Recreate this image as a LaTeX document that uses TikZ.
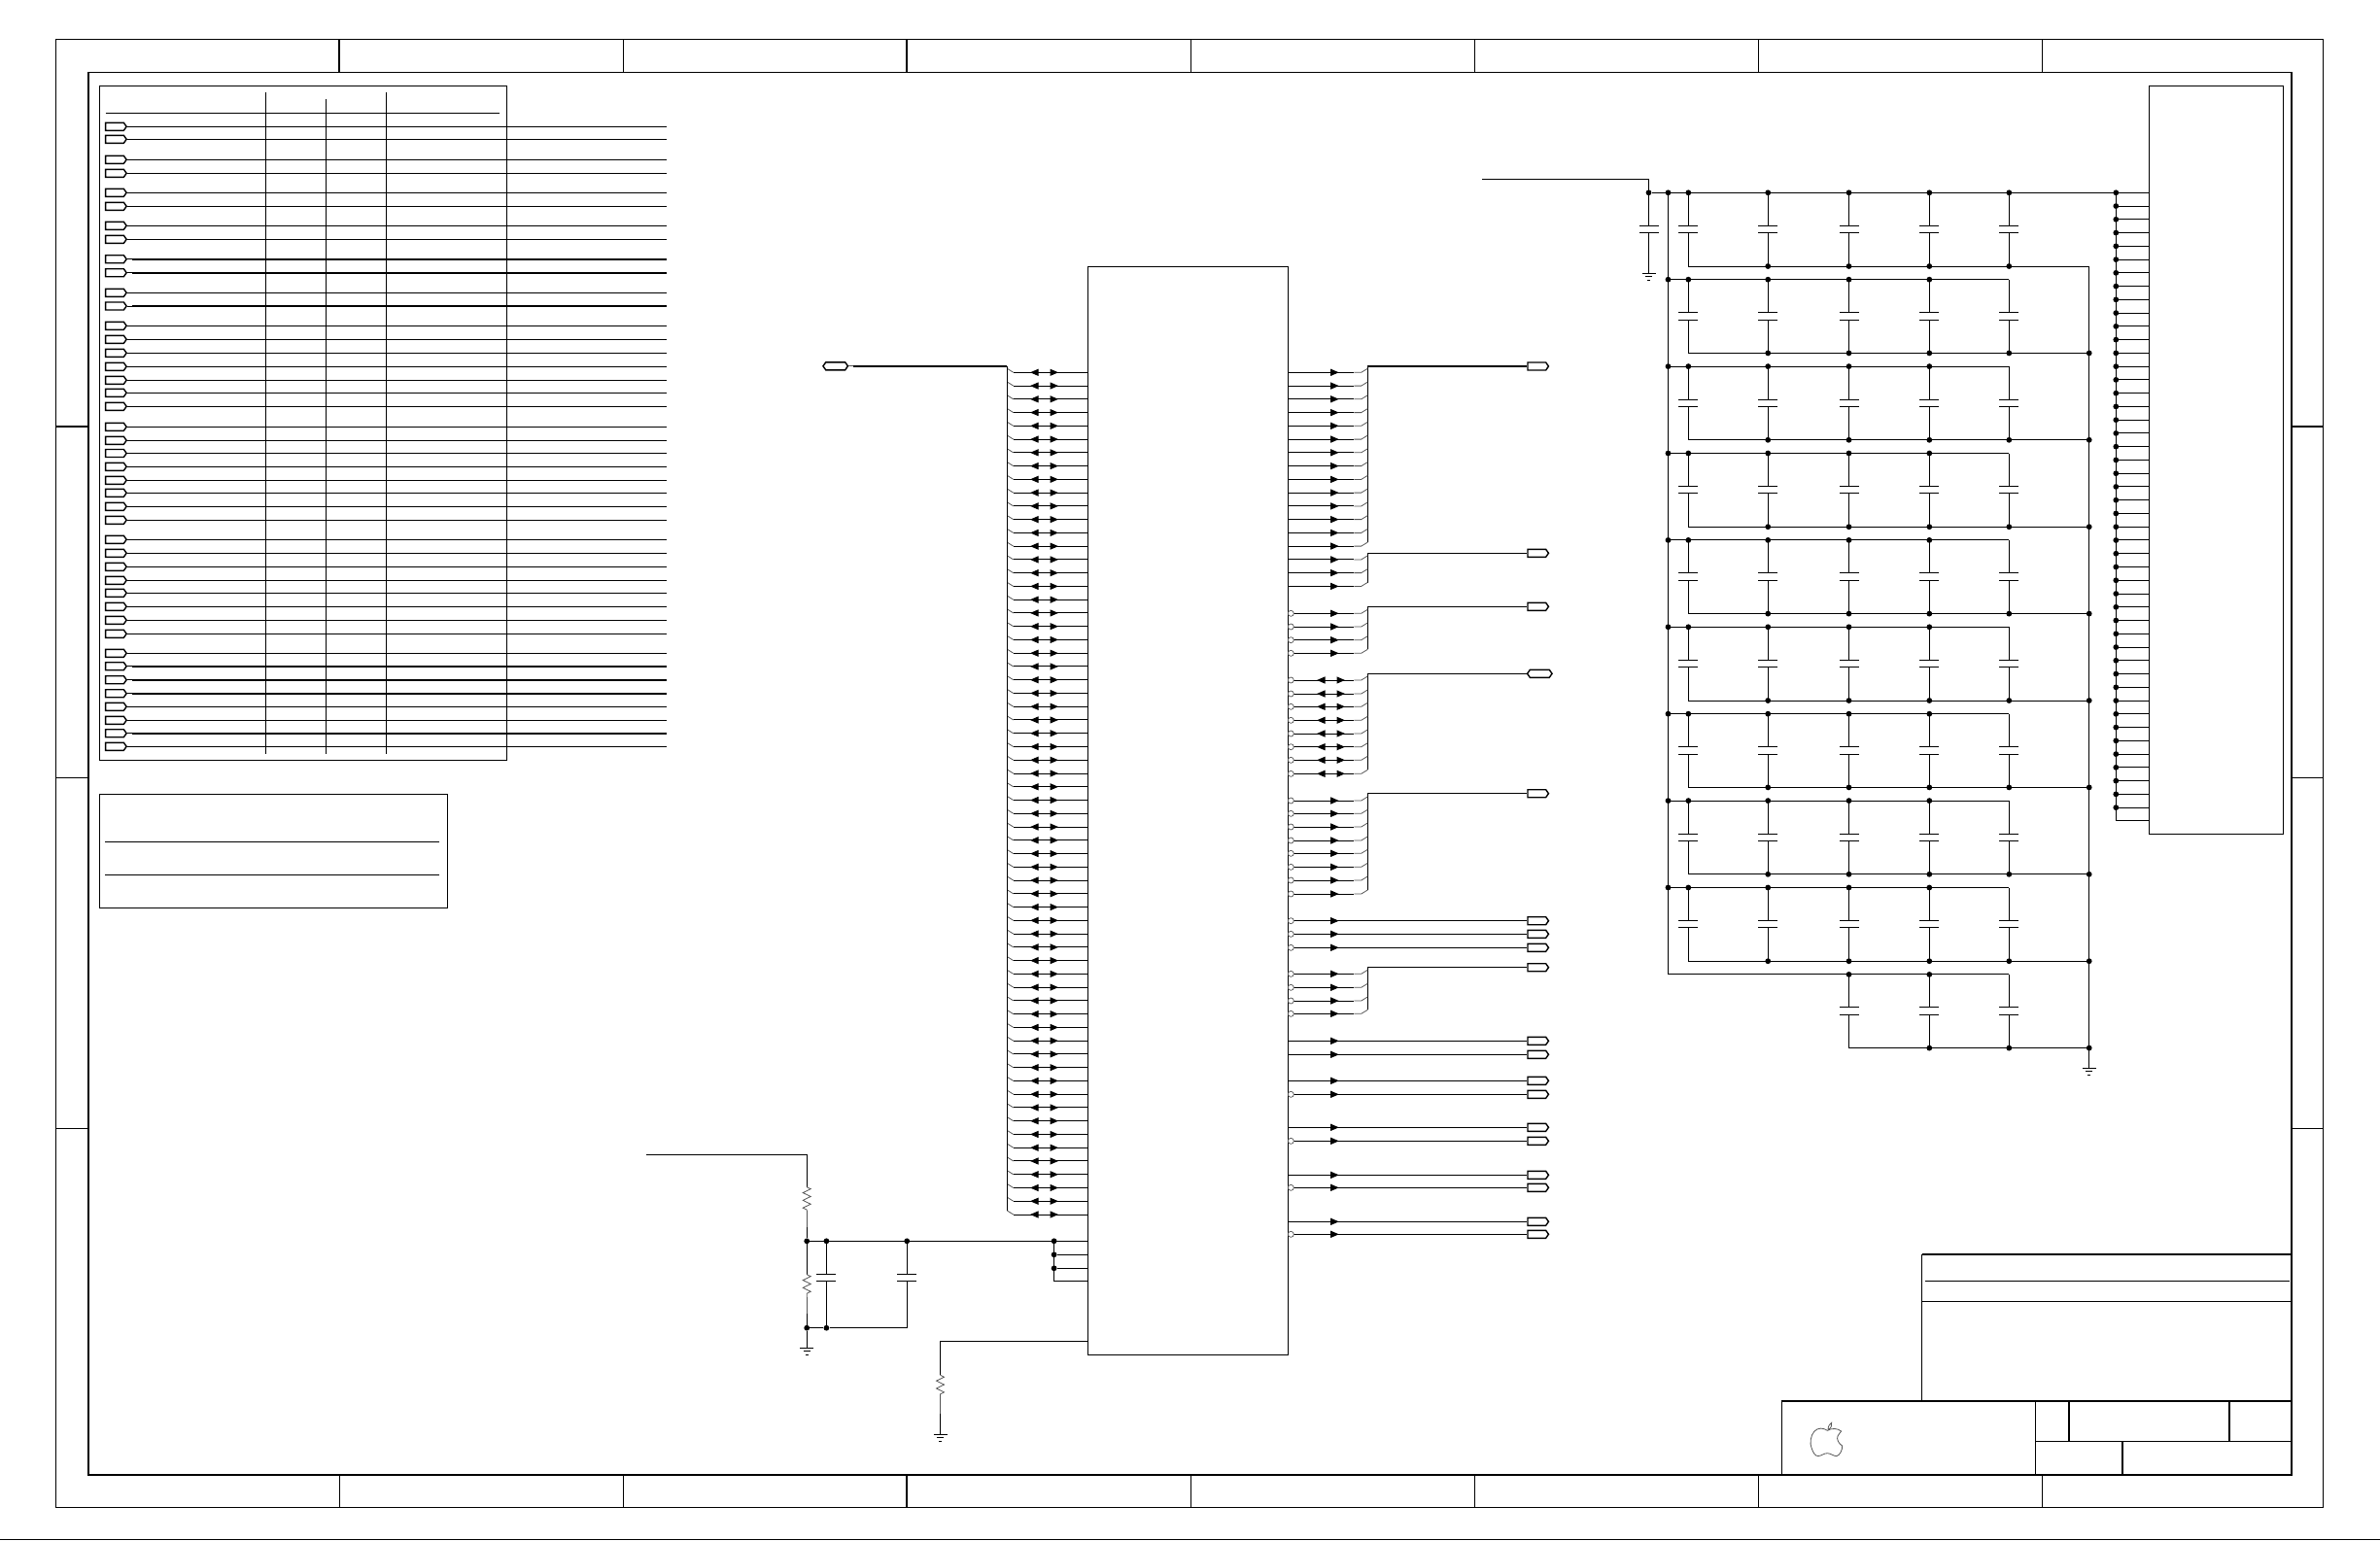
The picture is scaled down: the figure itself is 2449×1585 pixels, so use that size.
\documentclass[tikz,border=0pt]{standalone}
\usetikzlibrary{arrows.meta}
\usetikzlibrary{calc}
\usetikzlibrary{decorations.pathmorphing}
\usetikzlibrary{shapes.symbols}
\definecolor{tapgray}{HTML}{555555}
\tikzset{>={Triangle[length=8.5pt,width=7pt]}}
\tikzset{
	wire/.style = {line width = 1pt},
	heavy/.style = {line width = 2.2pt},
	tap/.style = {line width = 0.8pt, tapgray},
	outpin/.style = {->},
	bipin/.style = {<->},
	port/.style = {shape = signal, signal to = east, signal pointer angle = 110, draw, line width = 1.4pt,
		inner sep = 0pt, minimum width = 21.5pt, minimum height = 8pt},
	hexport/.style = {port, signal to = east and west, minimum width = 25.5pt},
	dot/.style = {circle, fill = black, inner sep = 0pt, minimum size = 5.8pt},
	bubble/.style = {circle, draw = tapgray, fill = white, line width = 0.7pt, inner sep = 0pt, minimum size = 6pt},
	res/.style = {tap, decorate, decoration = {zigzag, segment length = 7.8pt, amplitude = 4pt}},
	cap/.pic = {
		\draw[wire] (-10,0) -- (10,0) (-10,7.4) -- (10,7.4);
		\coordinate (-a) at (0,0);
		\coordinate (-b) at (0,7.4);
	},
	gnd/.pic = {
		\draw[wire] (-7,0) -- (7,0) (-3.6,3.6) -- (3.6,3.6) (-1.5,7) -- (1.5,7);
		\coordinate (-a) at (0,0);
	}
}

\begin{document}
\begin{tikzpicture}[x = 1pt, y = -1pt]
\useasboundingbox (0,0) rectangle (2449,1585);

% sheet frame
\draw[wire] (57.5,40.5) rectangle (2390,1551.3);
\draw[wire] (91,74.3) -- (2358.2,74.3);
\draw[heavy] (91,74.3) -- (91,1517.8) -- (2358.2,1517.8) -- (2358.2,74.3);
\foreach \x/\st in {349/heavy, 641/wire, 933/heavy, 1225/wire, 1517/wire, 1809/wire, 2101/wire}
	\draw[\st] (\x,40.5) -- (\x,74.3);
\foreach \x/\st in {349/wire, 641/wire, 933/heavy, 1225/wire, 1517/wire, 1809/wire, 2101/wire}
	\draw[\st] (\x,1517.8) -- (\x,1551.3);
\foreach \y/\st in {439/heavy, 800/wire, 1161/wire} {
	\draw[\st] (57.5,\y) -- (91,\y);
	\draw[\st] (2358.2,\y) -- (2390,\y);
}
\draw[wire] (0,1584.3) -- (2449,1584.3);

% title block
\draw[heavy] (1977.5,1290.7) -- (2358.2,1290.7);
\draw[wire] (1977.5,1290.7) -- (1977.5,1442);
\draw[wire] (1981,1318.3) -- (2356,1318.3);
\draw[wire] (1977.5,1339.3) -- (2358.2,1339.3);
\draw[heavy] (1833,1442) -- (2358.2,1442);
\draw[wire] (1833,1442) -- (1833,1517.8);
\draw[wire] (2094.6,1442) -- (2094.6,1517.8);
\draw[wire] (2094.6,1483.3) -- (2358.2,1483.3);
\draw[heavy] (2128.6,1442) -- (2128.6,1483.3);
\draw[heavy] (2294,1442) -- (2294,1483.3);
\draw[heavy] (2184,1483.3) -- (2184,1517.8);
\draw[tap] (1880.4,1472.3) .. controls (1876,1469.5) and (1871,1469) .. (1867,1473)
	.. controls (1863,1477) and (1862,1486) .. (1864,1490)
	.. controls (1865.5,1495) and (1868,1499) .. (1871,1498.5)
	.. controls (1874,1498.5) and (1877,1495.5) .. (1880.4,1495.7)
	.. controls (1884,1495.7) and (1887,1499) .. (1890,1498.5)
	.. controls (1893,1498) and (1896,1492) .. (1895.7,1488)
	.. controls (1892,1486) and (1889.5,1481) .. (1891,1478)
	.. controls (1892,1476) and (1893.5,1474.5) .. (1894.6,1473)
	.. controls (1891,1470) and (1885,1469.5) .. (1880.4,1472.3) -- cycle;
\draw[tap] (1881,1471.5) .. controls (1881,1468) and (1882.5,1465.5) .. (1884.6,1464.3)
	.. controls (1885.5,1467) and (1884,1470) .. (1881,1471.5);

% signal table
\draw[wire] (102.3,88.3) rectangle (521.4,782.3);
\draw[wire] (108.6,116.3) -- (513.5,116.3);
\draw[wire] (273.5,95) -- (273.5,775.7);
\draw[wire] (335,101.7) -- (335,775.7);
\draw[wire] (397,95) -- (397,775.7);
\foreach[count = \i] \y/\st in {130.3/wire, 143.3/wire, 164.3/wire, 178.3/wire, 198.3/wire, 212.3/wire,
	232.3/wire, 246.3/wire, 266.7/heavy, 280.7/heavy, 301.3/wire, 315/heavy, 335.3/wire, 349.3/wire,
	363.3/wire, 377.3/wire, 391.3/wire, 404.3/wire, 418.3/wire, 439.3/wire, 453.3/wire, 466.5/wire,
	480.3/wire, 494.3/wire, 507.3/wire, 521.3/wire, 535.3/wire, 555.3/wire, 569.3/wire, 583.3/wire,
	597.3/wire, 610.3/wire, 624.3/wire, 638.3/wire, 652.3/wire, 672.3/wire, 685.7/heavy, 699.7/heavy,
	713.7/heavy, 727.3/wire, 741.3/wire, 754.7/heavy, 768.3/wire} {
	\node[port] (tp\i) at (118,\y) {};
	\coordinate (ts\i) at (136,\y);
	\coordinate (te\i) at (686,\y);
	\draw[wire] (tp\i.east) -- (ts\i);
	\draw[\st] (ts\i) -- (te\i);
}

% note box
\draw[wire] (102.3,817) rectangle (460,934.5);
\draw[wire] (108,866) -- (452,866);
\draw[wire] (108,900) -- (452,900);

% memory device
\node[draw, wire, inner sep = 0pt, minimum width = 205.9pt, minimum height = 1120pt] (ic) at (1222.35,834.3) {};

\foreach \k in {0,...,63} {
	\pgfmathsetmacro\y{383.3 + 13.757 * \k}
	\coordinate (lp\k) at (ic.west |- 0,\y);
	\coordinate (lt\k) at (1042.7,\y);
	\coordinate (lb\k) at (1036.4,\y - 4);
	\draw[wire] (lp\k) -- (lt\k);
	\draw[tap] (lt\k) -- (lb\k);
	\draw[wire, bipin] (1060,\y) -- (1089,\y);
}
\node[hexport] (dq) at (859.7,376.8) {};
\coordinate (dqs) at (878.3,376.8);
\coordinate (dqb) at (1036.4,376.8);
\draw[tap] (dq.east) -- (dqs);
\draw[heavy] (dqs) -- (dqb);
\draw[wire] (dqb) -- (lb63);

% outputs that share a bus
\foreach \g/\top/\st/\pt/\cx in {1/377/heavy/port/1581.3, 2/569.3/wire/port/1581.3, 3/624.3/wire/port/1581.3,
	4/693.3/wire/hexport/1584.3, 5/816.7/wire/port/1581.3, 6/995.7/wire/port/1581.3} {
	\node[\pt] (rport\g) at (\cx,\top) {};
	\coordinate (rb\g) at (1407.3,\top);
	\draw[\st] (rb\g) -- (rport\g.west);
}
\foreach \g/\bot/\b/\a/\s/\e/\ys in {
	1/558.3/0/outpin/1368/1377.7/{383.3, 397.1, 410.8, 424.6, 438.3, 452.1, 465.8, 479.6, 493.4, 507.1, 520.9, 534.6, 548.4, 562.1},
	2/600.3/0/outpin/1368/1377.7/{575.9, 589.6, 603.4},
	3/668.3/1/outpin/1368/1377.7/{631.3, 645, 658.7, 672.3},
	4/792.3/1/bipin/1355/1384/{700, 714, 727.3, 741.3, 755, 768.7, 782.3, 796.3},
	5/916/1/outpin/1368/1377.7/{824, 837.3, 851, 865, 878.3, 892.3, 906, 920},
	6/1039.3/1/outpin/1368/1377.7/{1002.3, 1016.3, 1030, 1043.3}} {
	\coordinate (rz\g) at (1407.3,\bot);
	\draw[wire] (rb\g) -- (rz\g);
	\foreach[count = \i] \y in \ys {
		\coordinate (rp\g-\i) at (ic.east |- 0,\y);
		\coordinate (rs\g-\i) at (1393.3,\y);
		\coordinate (rt\g-\i) at (1407.3,\y - 4);
		\draw[wire] (rp\g-\i) -- (rs\g-\i);
		\draw[tap] (rs\g-\i) -- ++(7.4,0) -- (rt\g-\i);
		\draw[wire, \a] (\s,\y) -- (\e,\y);
		\ifnum\b=1
			\node[bubble] (rn\g-\i) at (1328.3,\y) {};
		\fi
	}
}

% outputs with a port each
\foreach[count = \i] \y/\b in {947.7/1, 961.3/1, 975.3/1, 1071.3/0, 1085.3/0, 1112.3/0, 1126.3/1,
	1160.3/0, 1174.3/1, 1209.3/0, 1222.3/1, 1257.3/0, 1270.3/1} {
	\node[port] (sp\i) at (1581.3,\y) {};
	\coordinate (sq\i) at (ic.east |- 0,\y);
	\draw[wire] (sq\i) -- (sp\i.west);
	\draw[wire, outpin] (1368,\y) -- (1377.7,\y);
	\ifnum\b=1
		\node[bubble] (sn\i) at (1328.3,\y) {};
	\fi
}

% reference divider
\coordinate (vrin) at (665,1188.3);
\coordinate (ra1) at (830.2,1221.7);
\coordinate (ra2) at (830.2,1246);
\coordinate (rb1) at (830.2,1311.7);
\coordinate (rb2) at (830.2,1335);
\node[dot] (vr) at (830.2,1277.3) {};
\node[dot] (vrg) at (830.2,1366.7) {};
\node[dot] (vc1) at (850.4,1277.3) {};
\node[dot] (vc2) at (933.2,1277.3) {};
\node[dot] (vcg) at (850.4,1366.7) {};
\coordinate (vcz) at (933.2,1366.7);
\draw[wire] (vrin) -| (ra1);
\draw[res] (ra1) -- (ra2);
\draw[tap] (ra2) -- (830.2,1263.3);
\draw[wire] (830.2,1263.3) -- (vr) -- (rb1);
\draw[res] (rb1) -- (rb2);
\draw[tap] (rb2) -- (830.2,1352);
\draw[wire] (830.2,1352) -- (vrg) -- (vcg) -- (vcz);
\pic (cv1) at (850.4,1311.3) {cap};
\pic (cv2) at (933.2,1311.3) {cap};
\draw[wire] (vc1) -- (cv1-a);
\draw[wire] (cv1-b) -- (vcg);
\draw[wire] (vc2) -- (cv2-a);
\draw[wire] (cv2-b) -- (vcz);
\pic (gv) at (830.2,1387.3) {gnd};
\draw[wire] (vrg) -- (gv-a);
\node[dot] (vp1) at (1084.6,1277.3) {};
\node[dot] (vp2) at (1084.6,1291.3) {};
\node[dot] (vp3) at (1084.6,1305.3) {};
\coordinate (vp4) at (1084.6,1318.3);
\draw[wire] (vr) -- (ic.west |- vp1);
\draw[wire] (vp2) -- (ic.west |- vp2);
\draw[wire] (vp3) -- (ic.west |- vp3);
\draw[wire] (vp1) -- (vp4) -- (ic.west |- vp4);

% calibration resistor
\coordinate (zq) at (ic.west |- 0,1380.3);
\coordinate (rz1) at (967.5,1415.3);
\coordinate (rz2) at (967.5,1438.3);
\coordinate (rz3) at (967.5,1455);
\pic (gz) at (967.5,1476) {gnd};
\draw[wire] (zq) -| (rz1);
\draw[res] (rz1) -- (rz2);
\draw[tap] (rz2) -- (rz3);
\draw[wire] (rz3) -- (gz-a);

% right hand connector
\node[draw, wire, inner sep = 0pt, minimum width = 138.4pt, minimum height = 770.3pt] (conn) at (2280.4,473.15) {};
\foreach \k in {0,...,47} {
	\pgfmathsetmacro\y{198.3 + 13.757 * \k}
	\coordinate (pb\k) at (2177.3,\y);
	\draw[wire] (pb\k) -- (conn.west |- pb\k);
	\ifnum\k<47
		\node[dot] (pd\k) at (pb\k) {};
	\fi
}
\draw[wire] (pb0) -- (pb47);

% decoupling rows
\foreach \r in {0,...,9} {
	\pgfmathsetmacro\t{198.3 + 89.4 * \r}
	\pgfmathsetmacro\u{\t + 75.7}
	\pgfmathtruncatemacro\first{\r == 9 ? 2 : 0}
	\coordinate (tv\r) at (1716.5,\t);
	\coordinate (bv\r) at (2149.7,\u);
	\foreach \c/\x in {0/1737.3, 1/1819.2, 2/1902.5, 3/1985.3, 4/2067.3} {
		\ifnum\c<\first\else
			\coordinate (ct\r-\c) at (\x,\t);
			\coordinate (cb\r-\c) at (\x,\u);
			\pic (c\r-\c) at (\x,\t + 34) {cap};
			\draw[wire] (ct\r-\c) -- (c\r-\c-a);
			\draw[wire] (c\r-\c-b) -- (cb\r-\c);
			\ifnum\c<4
				\node[dot] (dt\r-\c) at (ct\r-\c) {};
			\else
				\ifnum\r=0
					\node[dot] (dt\r-\c) at (ct\r-\c) {};
				\fi
			\fi
			\ifnum\c>\first
				\node[dot] (db\r-\c) at (cb\r-\c) {};
			\fi
		\fi
	}
	\draw[wire] (tv\r) -- (ct\r-4);
	\draw[wire] (cb\r-\first) -- (bv\r);
	\ifnum\r<9
		\node[dot] (dv\r) at (tv\r) {};
	\fi
	\ifnum\r>0
		\node[dot] (dr\r) at (bv\r) {};
	\fi
}
\draw[wire] (tv0) -- (tv9);
\pic (gr) at (2149.7,1099.3) {gnd};
\draw[wire] (bv0) -- (gr-a);

% supply feed
\coordinate (vin) at (1525,184.3);
\node[dot] (vj) at (1696.5,198.3) {};
\pic (cf) at (1696.5,232) {cap};
\pic (gf) at (1696.5,281.3) {gnd};
\draw[wire] (vin) -| (cf-a);
\draw[wire] (cf-b) -- (gf-a);
\draw[wire] (vj) -- (tv0);
\draw[wire] (ct0-4) -- (pb0);

\end{tikzpicture}
\end{document}
